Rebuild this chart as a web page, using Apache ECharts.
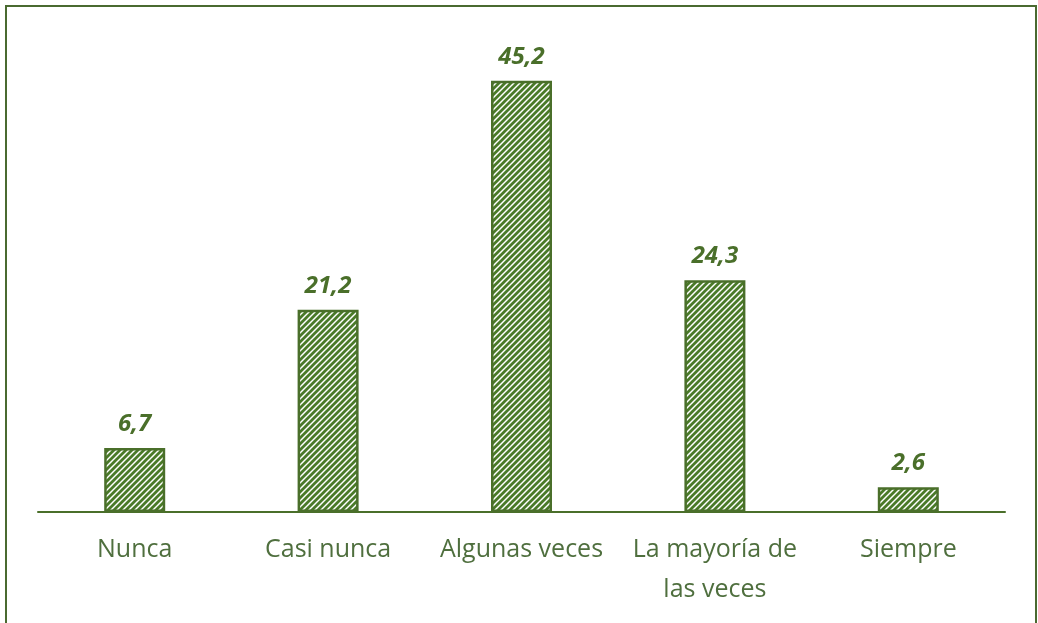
<!DOCTYPE html>
<html>
<head>
<meta charset="utf-8">
<script src="https://cdn.jsdelivr.net/npm/echarts@6/dist/echarts.min.js"></script>
<style>
  html, body { margin: 0; padding: 0; background: #fff; }
  #chart { width: 1038px; height: 623px; }
</style>
</head>
<body>
<div id="chart"></div>
<script>
const categories = ['Nunca', 'Casi nunca', 'Algunas veces', 'La mayoría de\nlas veces', 'Siempre']
const values = [6.7, 21.2, 45.2, 24.3, 2.6]

// hatch pattern for bars
function makeHatch() {
  const c = document.createElement('canvas')
  c.width = 6
  c.height = 6
  const ctx = c.getContext('2d')
  ctx.fillStyle = '#ffffff'
  ctx.fillRect(0, 0, 6, 6)
  ctx.strokeStyle = '#4a7a28'
  ctx.lineWidth = 2.8
  ctx.beginPath()
  ctx.moveTo(-1, 7); ctx.lineTo(7, -1)
  ctx.moveTo(-4, 4); ctx.lineTo(4, -4)
  ctx.moveTo(2, 10); ctx.lineTo(10, 2)
  ctx.stroke()
  return c
}

const chart = echarts.init(document.getElementById('chart'))
chart.setOption({
  animation: false,
  grid: { left: 38, right: 33, top: 35, bottom: 111 },
  xAxis: {
    type: 'category',
    data: categories,
    axisLine: { lineStyle: { color: '#4a6f2a', width: 2 } },
    axisTick: { show: false },
    axisLabel: {
      interval: 0,
      margin: 18,
      color: '#4f6f3e',
      fontFamily: 'Open Sans',
      fontSize: 25,
      lineHeight: 40
    }
  },
  yAxis: {
    type: 'value',
    min: 0,
    max: 50,
    show: false,
    splitLine: { show: false }
  },
  series: [{
    type: 'bar',
    data: values,
    barWidth: 61,
    itemStyle: {
      color: { image: makeHatch(), repeat: 'repeat' },
      borderColor: '#4a6f2a',
      borderWidth: 2.5
    },
    label: {
      show: true,
      position: 'top',
      distance: 12,
      color: '#4a6f2a',
      fontFamily: 'Open Sans',
      fontSize: 24,
      fontWeight: 'bold',
      fontStyle: 'italic',
      formatter: p => String(p.value).replace('.', ',')
    }
  }],
  graphic: [{
    type: 'polyline',
    shape: { points: [[6, 640], [6, 6], [1036, 6], [1036, 640]] },
    style: { stroke: '#4a6a30', lineWidth: 2, fill: null },
    silent: true
  }]
})
</script>
</body>
</html>
